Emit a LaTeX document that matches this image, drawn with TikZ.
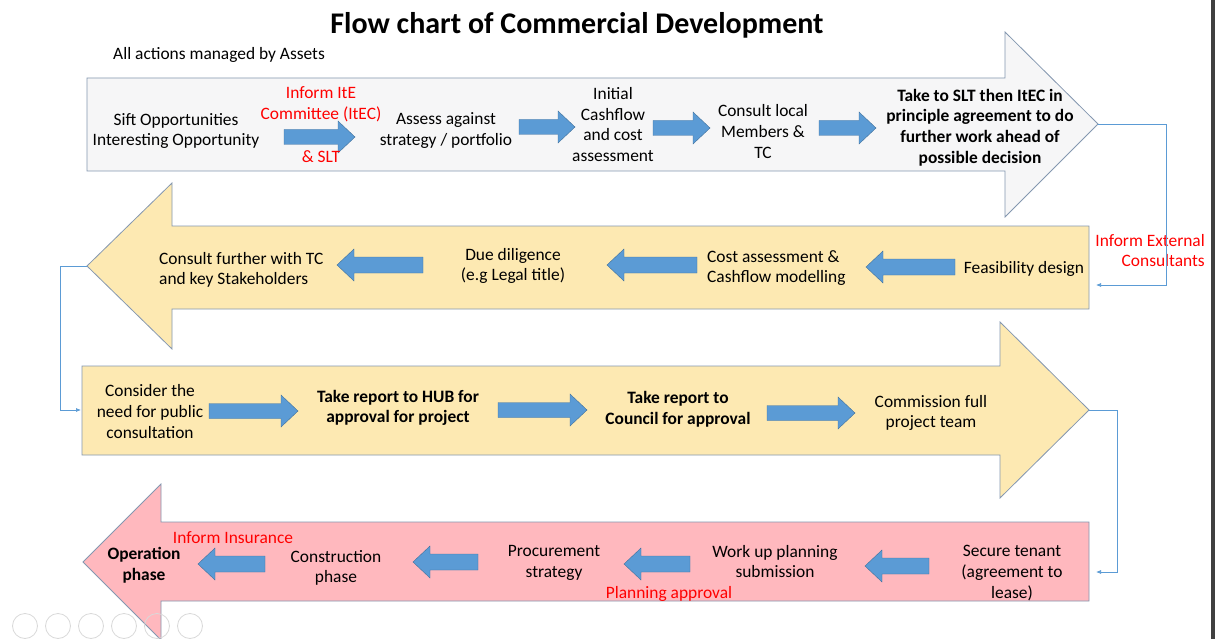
\documentclass[tikz,border=0pt]{standalone}
\usepackage{fontspec}
\setmainfont{Carlito}
\usetikzlibrary{arrows.meta}
\definecolor{greyfill}{RGB}{246,246,247}
\definecolor{goldfill}{RGB}{253,233,178}
\definecolor{pinkfill}{RGB}{255,184,190}
\definecolor{edgeblue}{RGB}{132,151,176}
\definecolor{blockblue}{RGB}{91,155,213}
\definecolor{blockedge}{RGB}{65,113,156}
\definecolor{notered}{RGB}{255,0,0}
\tikzset{
    bigarrow/.style = {draw=edgeblue, line width=0.8pt},
    blockarrow/.style = {draw=blockedge, fill=blockblue, line width=0.4pt},
    connector/.style = {draw=blockblue, line width=0.7pt, -{Latex[length=5pt,width=4pt]}},
    txt/.style = {font=\fontsize{17.4}{20.7}\selectfont, align=center, inner sep=0pt, yshift=-1.5pt},
    txtbold/.style = {txt, font=\fontsize{17.4}{20.7}\selectfont\bfseries},
    rednote/.style = {txt, text=notered}
}

\begin{document}
\begin{tikzpicture}[x=1pt, y=-1pt]
    \fill[white] (0,0) rectangle (1215,639);
    \useasboundingbox (0,0) rectangle (1215,639);
    \fill[black!75] (1211,0) rectangle (1215,639);

    \node[font=\fontsize{30}{34}\selectfont\bfseries] (title) at (577,25) {Flow chart of Commercial Development};
    \node[txt, anchor=west] (managed) at (113,53) {All actions managed by Assets};

    % the four big arrows
    \draw[bigarrow, fill=greyfill] (87,78) -- (1005,78) -- (1005,32) -- (1098,124) -- (1005,217) -- (1005,171) -- (87,171) -- cycle;
    \draw[bigarrow, fill=goldfill] (1089,226) -- (172,226) -- (172,183) -- (87,266) -- (172,349) -- (172,309) -- (1089,309) -- cycle;
    \draw[bigarrow, fill=goldfill] (82,366) -- (1000,366) -- (1000,322) -- (1089,410) -- (1000,498) -- (1000,455) -- (82,455) -- cycle;
    \draw[bigarrow, fill=pinkfill] (1089,522) -- (161,522) -- (161,484) -- (83,562) -- (161,640) -- (161,601) -- (1089,601) -- cycle;

    \coordinate (tipA) at (1098,124);
    \coordinate (inB) at (1096,285);
    \coordinate (tipB) at (87,266);
    \coordinate (inC) at (81,410);
    \coordinate (tipC) at (1089,410);
    \coordinate (inD) at (1096,572);

    % small block arrows
    \foreach \a/\b/\c in {284/355/137, 519/575/127, 653/710/128, 819/876/128, 209/298/411, 498/587/410, 767/855/413} {
        \draw[blockarrow] (\a,\c-7.5) -- (\b-17,\c-7.5) -- (\b-17,\c-16) -- (\b,\c) -- (\b-17,\c+16) -- (\b-17,\c+7.5) -- (\a,\c+7.5) -- cycle;
    }
    \foreach \a/\b/\c in {337/423/265, 607/697/265, 866/955/267, 198/265/564, 413/478/562, 624/690/564, 865/929/566} {
        \draw[blockarrow] (\b,\c-8) -- (\a+17,\c-8) -- (\a+17,\c-16) -- (\a,\c) -- (\a+17,\c+16) -- (\a+17,\c+8) -- (\b,\c+8) -- cycle;
    }

    % first row
    \node[txt] (sift) at (176,129.5) {Sift Opportunities\\Interesting Opportunity};
    \node[rednote] (itec) at (321,102.5) {Inform ItE\\Committee (ItEC)};
    \node[rednote] (slt) at (321,155) {\& SLT};
    \node[txt] (assess) at (446,129) {Assess against\\strategy / portfolio};
    \node[txt] (initial) at (613,123) {Initial\\Cashflow\\and cost\\assessment};
    \node[txt] (members) at (763,130) {Consult local\\Members \&\\TC};
    \node[txtbold] (principle) at (980,126) {Take to SLT then ItEC in\\principle agreement to do\\further work ahead of\\possible decision};

    % second row
    \node[txt, align=left, anchor=west] (stake) at (159,268.5) {Consult further with TC\\and key Stakeholders};
    \node[txt] (diligence) at (513,264.5) {Due diligence\\(e.g Legal title)};
    \node[txt, align=left, anchor=west] (costing) at (707,266.5) {Cost assessment \&\\Cashflow modelling};
    \node[txt] (feasible) at (1024,267) {Feasibility design};
    \node[rednote, align=right, anchor=east] (external) at (1205,249) {Inform External\\Consultants};

    % third row
    \node[txt] (public) at (150,410) {Consider the\\need for public\\consultation};
    \node[txtbold] (hub) at (398,406.5) {Take report to HUB for\\approval for project};
    \node[txtbold] (council) at (678,408) {Take report to\\Council for approval};
    \node[txt] (team) at (931,411.5) {Commission full\\project team};

    % fourth row
    \node[txtbold] (operation) at (144,563.5) {Operation\\phase};
    \node[rednote] (insurance) at (233,536) {Inform Insurance};
    \node[txt] (construct) at (336,566.5) {Construction\\phase};
    \node[txt] (procure) at (554,561.5) {Procurement\\strategy};
    \node[rednote] (planning) at (669,592) {Planning approval};
    \node[txt] (submission) at (775,560) {Work up planning\\submission};
    \node[txt] (tenant) at (1012,571.5) {Secure tenant\\(agreement to\\lease)};

    % links between the rows
    \draw[connector] (tipA) -- ++(68,0) |- (inB);
    \draw[connector] (tipB) -- ++(-27,0) |- (inC);
    \draw[connector] (tipC) -- ++(28,0) |- (inD);

    % slide controls
    \foreach \i in {0,...,5} {
        \draw[gray!30, line width=0.8pt] (25+33*\i,626) circle (12.5pt);
    }
\end{tikzpicture}
\end{document}
